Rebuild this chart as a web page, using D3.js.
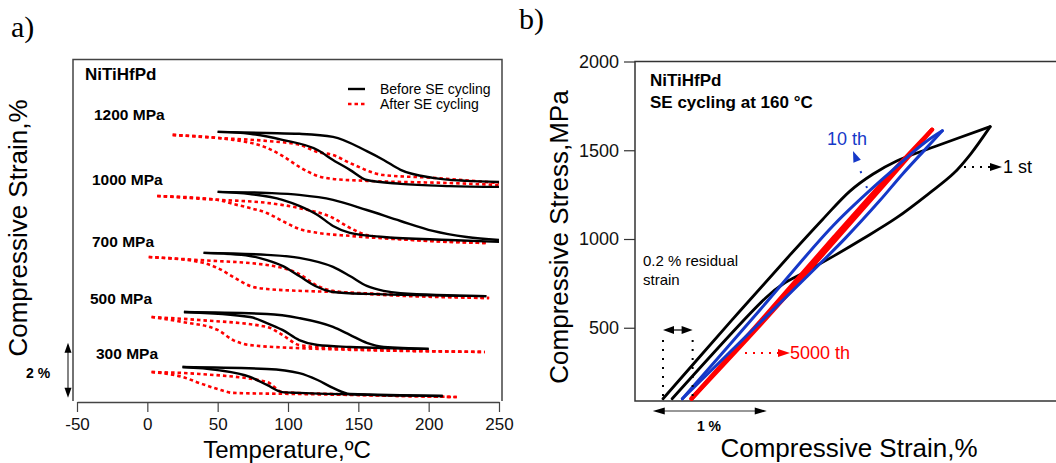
<!DOCTYPE html>
<html>
  <head>
    <meta charset="utf-8">
    <!-- load d3 -->
    <script src="https://d3js.org/d3.v7.min.js"></script>
    <style>
      body { margin: 0; background: #fff; }
      text { font-family: "Liberation Sans", Arial, sans-serif; }
    </style>
  </head>
  <body>
    <script>

    // ---------- panel a: temperature (C) vs offset strain (%) ----------
    var tempTicks = [-50, 0, 50, 100, 150, 200, 250];
    var pressures = ["1200 MPa", "1000 MPa", "700 MPa", "500 MPa", "300 MPa"];

    // before SE cycling (black), two branches per stress level
    var before1200A = [[50,9.82],[85,9.78],[108,9.75],[132,9.64],[156,9.12],[168,8.80],[180,8.44],[203,8.15],[227,8.04],[250,8.00]];
    var before1200B = [[50,9.82],[73,9.75],[96,9.53],[121,9.16],[132,8.80],[144,8.44],[156,8.07],[180,7.93],[215,7.85],[250,7.82]];
    var before1000A = [[50,7.64],[85,7.60],[108,7.53],[132,7.35],[156,6.98],[180,6.58],[203,6.22],[227,6.00],[250,5.89]];
    var before1000B = [[50,7.64],[73,7.56],[96,7.35],[108,7.13],[121,6.80],[132,6.40],[144,6.15],[168,6.00],[215,5.89],[250,5.82]];
    var before700A = [[40,5.42],[85,5.35],[108,5.24],[132,4.91],[144,4.58],[156,4.22],[168,4.04],[180,3.96],[241,3.85]];
    var before700B = [[40,5.42],[73,5.31],[85,5.16],[96,4.95],[108,4.58],[121,4.18],[132,4.00],[156,3.93],[241,3.85]];
    var before500A = [[26,3.27],[85,3.20],[108,3.05],[132,2.73],[144,2.44],[156,2.15],[168,2.00],[200,1.93]];
    var before500B = [[26,3.27],[73,3.09],[85,2.87],[96,2.62],[108,2.25],[121,2.07],[144,2.00],[200,1.93]];
    var before300A = [[25,1.27],[85,1.20],[108,1.05],[121,0.80],[132,0.51],[144,0.29],[210,0.22]];
    var before300B = [[25,1.27],[50,1.16],[73,0.91],[85,0.62],[96,0.36],[108,0.33],[210,0.22]];

    // after SE cycling (red dotted)
    var after1200A = [[18,9.71],[50,9.60],[85,9.49],[108,9.35],[121,9.09],[132,8.98],[144,8.69],[168,8.25],[203,8.15],[250,7.96]];
    var after1200B = [[18,9.71],[50,9.60],[61,9.53],[85,9.24],[96,8.95],[108,8.55],[121,8.22],[132,8.11],[156,8.04],[215,7.96],[250,7.89]];
    var after1000A = [[7,7.49],[50,7.35],[85,7.24],[108,7.05],[132,6.69],[144,6.33],[156,6.07],[180,5.93],[241,5.78]];
    var after1000B = [[7,7.49],[50,7.35],[61,7.20],[73,7.05],[85,6.87],[96,6.58],[108,6.29],[121,6.15],[144,6.04],[241,5.78]];
    var after700A = [[1,5.27],[37,5.16],[85,4.98],[108,4.65],[121,4.22],[132,4.04],[156,3.93],[243,3.78]];
    var after700B = [[1,5.27],[37,5.09],[50,4.87],[61,4.55],[73,4.22],[85,4.11],[132,4.00],[243,3.78]];
    var after500A = [[3,3.09],[37,2.98],[85,2.73],[96,2.44],[108,2.07],[132,1.96],[240,1.82]];
    var after500B = [[3,3.09],[25,2.91],[50,2.62],[61,2.25],[73,2.07],[108,1.96],[240,1.82]];
    var after300A = [[3,1.09],[37,1.02],[85,0.73],[96,0.36],[132,0.29],[220,0.18]];
    var after300B = [[3,1.09],[25,0.91],[37,0.69],[50,0.47],[61,0.33],[108,0.29],[220,0.18]];

    // ---------- panel b: strain (%) vs stress (MPa) ----------
    var stressTicks = [500, 1000, 1500, 2000];
    var cycle1Load = [[0,100],[0.6,540],[1.1,900],[1.40,1110],[1.64,1270],[1.84,1365],[2.05,1440],[2.38,1520],[2.87,1633]];
    var cycle1Unload = [[2.87,1633],[2.70,1480],[2.55,1370],[2.34,1260],[2.05,1120],[1.75,1000],[1.50,905],[1.25,815],[1.05,745],[0.90,668],[0.08,100]];
    var cycle10Load = [[0.17,100],[0.85,600],[1.50,1080],[2.00,1380],[2.30,1545],[2.45,1610]];
    var cycle10Unload = [[2.45,1610],[2.30,1505],[2.10,1365],[1.90,1215],[1.60,1005],[1.25,780],[0.90,560],[0.17,100]];
    var cycle5000Load = [[0.25,100],[0.9,570],[1.5,1010],[2.0,1370],[2.36,1616]];
    var cycle5000Unload = [[2.36,1616],[2.0,1350],[1.5,985],[0.9,550],[0.25,100]];

    var w = 1056, h = 463;
    var svg = d3.select("body").append("svg")
      .attr("width", w)
      .attr("height", h);

    // draw a filled arrow head with its tip at (x, y)
    function arrowHead(x, y, angle, len, half, color) {
      svg.append("path")
        .attr("d", "M0,0 L" + (-len) + "," + (-half) + " L" + (-len) + "," + half + " Z")
        .attr("transform", "translate(" + x + "," + y + ") rotate(" + angle + ")")
        .attr("fill", color);
    }

    // ================= panel a =================
    var xA = d3.scaleLinear().domain([-50, 250]).range([77, 499]);
    var yA = d3.scaleLinear().domain([0, 12.47]).range([402, 59]);

    svg.append("text").text("a)")
      .attr("x", 11).attr("y", 37)
      .style("font-family", "'Liberation Serif', serif")
      .attr("font-size", "30px");

    // frame
    svg.append("path")
      .attr("d", "M73,401 V59.5 H502 V401")
      .attr("fill", "none")
      .attr("stroke", "#444")
      .attr("stroke-width", 1.5);

    var axA = svg.append("g")
      .attr("transform", "translate(0,402)")
      .call(d3.axisBottom(xA).tickValues(tempTicks).tickSize(10).tickSizeOuter(0).tickPadding(6)
        .tickFormat(function(d) { return String(d); }));
    axA.select(".domain").attr("stroke", "#444").attr("stroke-width", 1.5);
    axA.selectAll(".tick line").attr("stroke", "#444").attr("stroke-width", 1.2);
    axA.selectAll("text")
      .attr("font-size", "17px")
      .style("font-family", "'Liberation Sans', Arial, sans-serif")
      .attr("fill", "#111");

    svg.append("text").text("Temperature,\u00baC")
      .attr("x", 287).attr("y", 457.5)
      .attr("text-anchor", "middle")
      .attr("font-size", "24px");

    svg.append("text").text("Compressive Strain,%")
      .attr("transform", "translate(27,228) rotate(-90)")
      .attr("text-anchor", "middle")
      .attr("font-size", "26px");

    var lineA = d3.line()
      .x(function(d) { return xA(d[0]); })
      .y(function(d) { return yA(d[1]); })
      .curve(d3.curveMonotoneX);

    var beforeCurves = [before1200A, before1200B, before1000A, before1000B, before700A,
      before700B, before500A, before500B, before300A, before300B];
    var afterCurves = [after1200A, after1200B, after1000A, after1000B, after700A,
      after700B, after500A, after500B, after300A, after300B];

    svg.selectAll(".after")
      .data(afterCurves)
      .enter()
      .append("path")
      .attr("class", "after")
      .attr("d", lineA)
      .attr("fill", "none")
      .attr("stroke", "#ff0000")
      .attr("stroke-width", 2.6)
      .attr("stroke-dasharray", "3.5,3");

    svg.selectAll(".before")
      .data(beforeCurves)
      .enter()
      .append("path")
      .attr("class", "before")
      .attr("d", lineA)
      .attr("fill", "none")
      .attr("stroke", "#000")
      .attr("stroke-width", 2.4);

    // stress level labels
    var labelX = [94, 92, 92, 90, 96];
    var labelY = [120, 185, 247, 304, 359];
    svg.selectAll(".plabel")
      .data(pressures)
      .enter()
      .append("text")
      .attr("class", "plabel")
      .text(function(d) { return d; })
      .attr("x", function(d, i) { return labelX[i]; })
      .attr("y", function(d, i) { return labelY[i]; })
      .attr("font-size", "15.5px")
      .attr("font-weight", "bold");

    svg.append("text").text("NiTiHfPd")
      .attr("x", 85).attr("y", 80)
      .attr("font-size", "17px")
      .attr("font-weight", "bold");

    // legend
    svg.append("line")
      .attr("x1", 348).attr("x2", 365).attr("y1", 89).attr("y2", 89)
      .attr("stroke", "#000").attr("stroke-width", 2.4);
    svg.append("line")
      .attr("x1", 348).attr("x2", 367).attr("y1", 104).attr("y2", 104)
      .attr("stroke", "#ff0000").attr("stroke-width", 2.6)
      .attr("stroke-dasharray", "3.5,3");
    svg.append("text").text("Before SE cycling")
      .attr("x", 380).attr("y", 94).attr("font-size", "14px");
    svg.append("text").text("After SE cycling")
      .attr("x", 380).attr("y", 109).attr("font-size", "14px");

    // 2 % scale bar
    var barTop = yA(2.15), barBot = yA(0.15);
    svg.append("line")
      .attr("x1", 68).attr("x2", 68).attr("y1", barTop + 8).attr("y2", barBot - 8)
      .attr("stroke", "#333").attr("stroke-width", 1.2);
    arrowHead(68, barTop, -90, 10, 3.5, "#000");
    arrowHead(68, barBot, 90, 10, 3.5, "#000");
    svg.append("text").text("2 %")
      .attr("x", 26).attr("y", 378)
      .attr("font-size", "14px")
      .attr("font-weight", "bold");

    // ================= panel b =================
    var xB = d3.scaleLinear().domain([0, 1]).range([663, 777]);
    var yB = d3.scaleLinear().domain([0, 2000]).range([416.5, 61.5]);

    svg.append("text").text("b)")
      .attr("x", 519).attr("y", 29)
      .style("font-family", "'Liberation Serif', serif")
      .attr("font-size", "30px");

    svg.append("path")
      .attr("d", "M1056,61.5 H635 V401 H1056")
      .attr("fill", "none")
      .attr("stroke", "#333")
      .attr("stroke-width", 1.5);

    var axB = svg.append("g")
      .attr("transform", "translate(635,0)")
      .call(d3.axisLeft(yB).tickValues(stressTicks).tickSize(11).tickSizeOuter(0).tickPadding(5)
        .tickFormat(function(d) { return String(d); }));
    axB.select(".domain").remove();
    axB.selectAll(".tick line").attr("stroke", "#333").attr("stroke-width", 1.2);
    axB.selectAll("text")
      .attr("font-size", "18px")
      .style("font-family", "'Liberation Sans', Arial, sans-serif")
      .attr("fill", "#111");

    svg.append("text").text("Compressive Stress,MPa")
      .attr("transform", "translate(568,237) rotate(-90)")
      .attr("text-anchor", "middle")
      .attr("font-size", "26px");

    svg.append("text").text("Compressive Strain,%")
      .attr("x", 849).attr("y", 457)
      .attr("text-anchor", "middle")
      .attr("font-size", "26px");

    var lineB = d3.line()
      .x(function(d) { return xB(d[0]); })
      .y(function(d) { return yB(d[1]); })
      .curve(d3.curveCatmullRom);

    var loops = [
      { pts: cycle1Load, color: "#000", width: 2.8 },
      { pts: cycle1Unload, color: "#000", width: 2.8 },
      { pts: cycle5000Load, color: "#ff0000", width: 4.2 },
      { pts: cycle5000Unload, color: "#ff0000", width: 4.2 },
      { pts: cycle10Load, color: "#1538c8", width: 3 },
      { pts: cycle10Unload, color: "#1538c8", width: 3 }
    ];
    svg.selectAll(".loop")
      .data(loops)
      .enter()
      .append("path")
      .attr("class", "loop")
      .attr("d", function(d) { return lineB(d.pts); })
      .attr("fill", "none")
      .attr("stroke", function(d) { return d.color; })
      .attr("stroke-width", function(d) { return d.width; })
      .attr("stroke-linecap", "round");

    svg.append("text").text("NiTiHfPd")
      .attr("x", 650).attr("y", 86)
      .attr("font-size", "17px")
      .attr("font-weight", "bold");
    svg.append("text").text("SE cycling at 160 \u00b0C")
      .attr("x", 650).attr("y", 108)
      .attr("font-size", "17px")
      .attr("font-weight", "bold");

    // 10 th
    svg.append("text").text("10 th")
      .attr("x", 827).attr("y", 145)
      .attr("font-size", "18px")
      .attr("fill", "#1538c8");
    svg.append("line")
      .attr("x1", 867).attr("y1", 188).attr("x2", 857).attr("y2", 162)
      .attr("stroke", "#1538c8").attr("stroke-width", 2)
      .attr("stroke-dasharray", "2,14");
    arrowHead(853, 151, -112, 11, 4, "#1538c8");

    // 1 st
    svg.append("line")
      .attr("x1", 964).attr("x2", 990).attr("y1", 167).attr("y2", 167)
      .attr("stroke", "#000").attr("stroke-width", 2)
      .attr("stroke-dasharray", "2,6");
    arrowHead(1002, 167, 0, 12, 4, "#000");
    svg.append("text").text("1 st")
      .attr("x", 1003).attr("y", 173)
      .attr("font-size", "18px");

    // 5000 th
    svg.append("line")
      .attr("x1", 745).attr("x2", 778).attr("y1", 353).attr("y2", 353)
      .attr("stroke", "#ff0000").attr("stroke-width", 2)
      .attr("stroke-dasharray", "2,6");
    arrowHead(790, 353, 0, 12, 4, "#ff0000");
    svg.append("text").text("5000 th")
      .attr("x", 790).attr("y", 359)
      .attr("font-size", "18px")
      .attr("fill", "#ff0000");

    // residual strain marker
    svg.append("text").text("0.2 % residual")
      .attr("x", 643).attr("y", 266).attr("font-size", "15px");
    svg.append("text").text("strain")
      .attr("x", 643).attr("y", 285).attr("font-size", "15px");
    [0, 0.26].forEach(function(e) {
      svg.append("line")
        .attr("x1", xB(e)).attr("x2", xB(e))
        .attr("y1", 340).attr("y2", 398)
        .attr("stroke", "#000").attr("stroke-width", 2)
        .attr("stroke-dasharray", "2,7");
    });
    svg.append("line")
      .attr("x1", xB(0) + 8).attr("x2", xB(0.26) - 8).attr("y1", 330).attr("y2", 330)
      .attr("stroke", "#000").attr("stroke-width", 1.2);
    arrowHead(xB(0), 330, 180, 11, 4, "#000");
    arrowHead(xB(0.26), 330, 0, 11, 4, "#000");

    // 1 % scale bar
    var sbLeft = xB(-0.09), sbRight = xB(0.91);
    svg.append("line")
      .attr("x1", sbLeft + 8).attr("x2", sbRight - 8).attr("y1", 411).attr("y2", 411)
      .attr("stroke", "#333").attr("stroke-width", 1.2);
    arrowHead(sbLeft, 411, 180, 12, 3.5, "#000");
    arrowHead(sbRight, 411, 0, 12, 3.5, "#000");
    svg.append("text").text("1 %")
      .attr("x", 709).attr("y", 431)
      .attr("text-anchor", "middle")
      .attr("font-size", "14px")
      .attr("font-weight", "bold");

    </script>
  </body>
</html>
